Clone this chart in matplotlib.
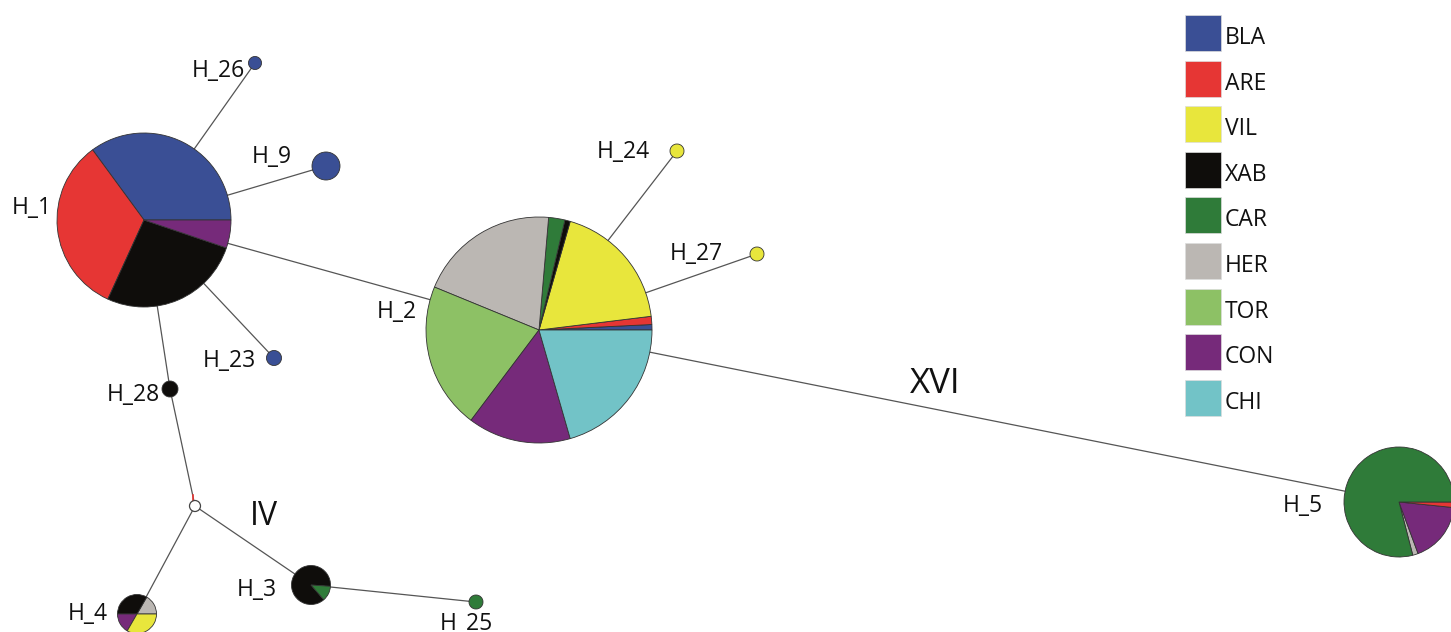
import matplotlib
matplotlib.use('Agg')
import matplotlib.pyplot as plt
from matplotlib.patches import Rectangle, Circle

# populations and their colours (legend order)
populations = ['BLA', 'ARE', 'VIL', 'XAB', 'CAR', 'HER', 'TOR', 'CON', 'CHI']
pop_colors = ['#3a4f95', '#e63634', '#e8e63c', '#0f0d0b', '#2f7b39',
              '#bbb7b3', '#8dc165', '#762a7a', '#72c3c7']

# haplotype composition (population, count), drawn counterclockwise
haplotypes = ['H_1', 'H_2', 'H_3', 'H_4', 'H_5', 'H_9', 'H_23', 'H_24',
              'H_25', 'H_26', 'H_27', 'H_28']
hap_pops = [
    ['BLA', 'ARE', 'XAB', 'CON'],
    ['BLA', 'ARE', 'VIL', 'XAB', 'CAR', 'HER', 'TOR', 'CON', 'CHI'],
    ['XAB', 'CAR'],
    ['HER', 'XAB', 'CON', 'VIL'],
    ['HER', 'CON', 'ARE', 'CAR'],
    ['BLA'], ['BLA'], ['VIL'], ['CAR'], ['BLA'], ['VIL'], ['XAB'],
]
hap_counts = [
    [54, 51, 41, 8],
    [2, 3, 48, 2, 6, 52, 54, 38, 53],
    [7, 1],
    [1, 2, 1, 2],
    [1, 11, 1, 49],
    [4], [1], [1], [1], [1], [1], [1],
]

# network links
links = [('H_1', 'H_26'), ('H_1', 'H_9'), ('H_1', 'H_23'), ('H_1', 'H_2'),
         ('H_1', 'H_28'), ('H_28', 'mv'), ('mv', 'H_4'), ('mv', 'H_3'),
         ('H_3', 'H_25'), ('H_2', 'H_24'), ('H_2', 'H_27'), ('H_2', 'H_5')]

# ---- layout (pixel coordinates, y measured from the top) ----
W, H = 1451, 632
node_xy = {'H_1': (144, 220), 'H_2': (539, 330), 'H_3': (311, 585),
           'H_4': (137, 614), 'H_5': (1399, 502), 'H_9': (326, 166),
           'H_23': (274, 358), 'H_24': (677, 151), 'H_25': (476, 602),
           'H_26': (255, 63), 'H_27': (757, 254), 'H_28': (170, 389),
           'mv': (195, 506)}
node_r = {'H_1': 87, 'H_2': 113, 'H_3': 19.5, 'H_4': 19.5, 'H_5': 55,
          'H_9': 14, 'H_23': 7.5, 'H_24': 7, 'H_25': 7, 'H_26': 6.5,
          'H_27': 7, 'H_28': 8}
start_angle = {'H_3': -4, 'H_5': -75.5}
label_pos = {'H_1': (12, 214), 'H_2': (377, 318), 'H_3': (237, 596),
             'H_4': (68, 620), 'H_5': (1283, 512), 'H_9': (252, 163),
             'H_23': (203, 367), 'H_24': (597, 158), 'H_25': (440, 630),
             'H_26': (192, 77), 'H_27': (670, 260), 'H_28': (107, 401)}


def xy(name):
    x, y = node_xy[name]
    return x, H - y


fig = plt.figure(figsize=(W / 100, H / 100), dpi=100)
ax = fig.add_axes([0, 0, 1, 1])
font = 'Open Sans'

for a, b in links:
    (x0, y0), (x1, y1) = xy(a), xy(b)
    ax.plot([x0, x1], [y0, y1], color='#555555', lw=0.9, zorder=1)

# small mutation tick near the median vector
ax.plot([192.5, 192.5], [H - 495, H - 500.5], color='#e63634', lw=1.2, zorder=2)

color_of = dict(zip(populations, pop_colors))
for name, pops, counts in zip(haplotypes, hap_pops, hap_counts):
    ax.pie(counts, colors=[color_of[p] for p in pops], center=xy(name),
           radius=node_r[name], startangle=start_angle.get(name, 0),
           wedgeprops={'edgecolor': '#333333', 'linewidth': 0.6, 'zorder': 3})
    lx, ly = label_pos[name]
    ax.text(lx, H - ly, name, fontsize=16.5, family=font,
            ha='left', va='baseline', color='#111111')

# median vector
ax.add_patch(Circle(xy('mv'), 5.5, facecolor='white', edgecolor='#444444',
                    lw=0.9, zorder=3))

ax.text(250, H - 525, 'IV', fontsize=23, family=font, ha='left',
        va='baseline', color='#111111')
ax.text(910, H - 393, 'XVI', fontsize=25, family=font, ha='left',
        va='baseline', color='#111111')

# legend
for i, (pop, col) in enumerate(zip(populations, pop_colors)):
    top = 15 + i * 45.6
    ax.add_patch(Rectangle((1185, H - top - 36), 36, 36, facecolor=col,
                           edgecolor='#dddddd', lw=0.5, zorder=3))
    ax.text(1225, H - top - 29, pop, fontsize=16.5, family=font,
            ha='left', va='baseline', color='#111111')

ax.set_xlim(0, W)
ax.set_ylim(0, H)
ax.set_aspect('equal')
ax.axis('off')

fig.savefig('out.png', dpi=100, facecolor='white')
plt.close(fig)
